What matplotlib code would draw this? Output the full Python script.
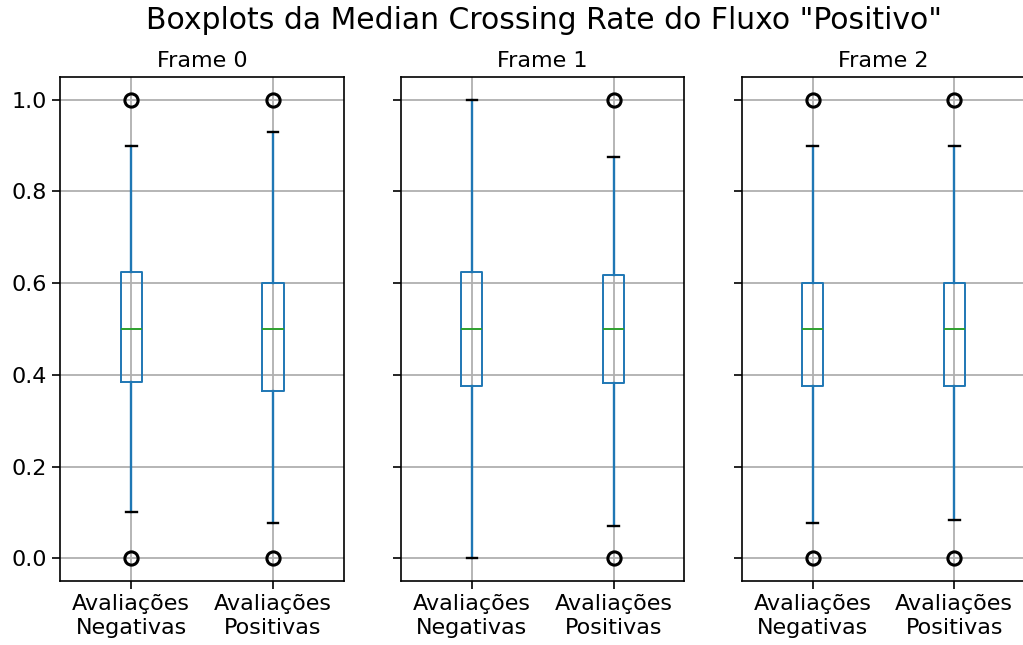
import matplotlib.pyplot as plt

frames = ["Frame 0", "Frame 1", "Frame 2"]
labels = ["Avaliações\nNegativas", "Avaliações\nPositivas"]

# per frame: [negativas, positivas]
q1 = [[0.384, 0.364], [0.375, 0.383], [0.375, 0.375]]
med = [[0.5, 0.5], [0.5, 0.5], [0.5, 0.5]]
q3 = [[0.625, 0.6], [0.625, 0.617], [0.6, 0.6]]
whislo = [[0.1, 0.077], [0.0, 0.071], [0.077, 0.083]]
whishi = [[0.9, 0.929], [1.0, 0.875], [0.9, 0.9]]
fliers = [[[0.0, 1.0], [0.0, 1.0]], [[], [0.0, 1.0]], [[0.0, 1.0], [0.0, 1.0]]]

fig = plt.figure(figsize=(10.23, 6.45), dpi=100)
lefts = [0.059, 0.392, 0.725]
width = 0.277
axes = []
for i, name in enumerate(frames):
    ax = fig.add_axes([lefts[i], 0.099, width, 0.782], sharey=axes[0] if axes else None)
    axes.append(ax)
    stats = []
    for j in range(2):
        stats.append(dict(label=labels[j], q1=q1[i][j], med=med[i][j], q3=q3[i][j],
                          whislo=whislo[i][j], whishi=whishi[i][j], fliers=fliers[i][j]))
    ax.bxp(stats,
           boxprops=dict(color="#1f77b4", lw=1.4),
           whiskerprops=dict(color="#1f77b4", lw=1.7),
           capprops=dict(color="black", lw=1.7),
           medianprops=dict(color="#2ca02c", lw=1.4),
           flierprops=dict(marker="o", markerfacecolor="none", markeredgecolor="black",
                           markersize=9.5, markeredgewidth=2.2))
    ax.grid(True, color="#b0b0b0", lw=1.3)
    ax.set_axisbelow(True)
    ax.set_title(name, fontsize=16, pad=7)
    ax.tick_params(labelsize=16, length=6, width=1.2)
    for sp in ax.spines.values():
        sp.set_linewidth(1.2)
    if i > 0:
        ax.tick_params(labelleft=False)

axes[0].set_ylim(-0.05, 1.05)
axes[0].set_yticks([0.0, 0.2, 0.4, 0.6, 0.8, 1.0])
fig.suptitle('Boxplots da Median Crossing Rate do Fluxo "Positivo"', fontsize=21.5,
             x=0.532, y=0.99)
fig.savefig("out.png", dpi=100)
